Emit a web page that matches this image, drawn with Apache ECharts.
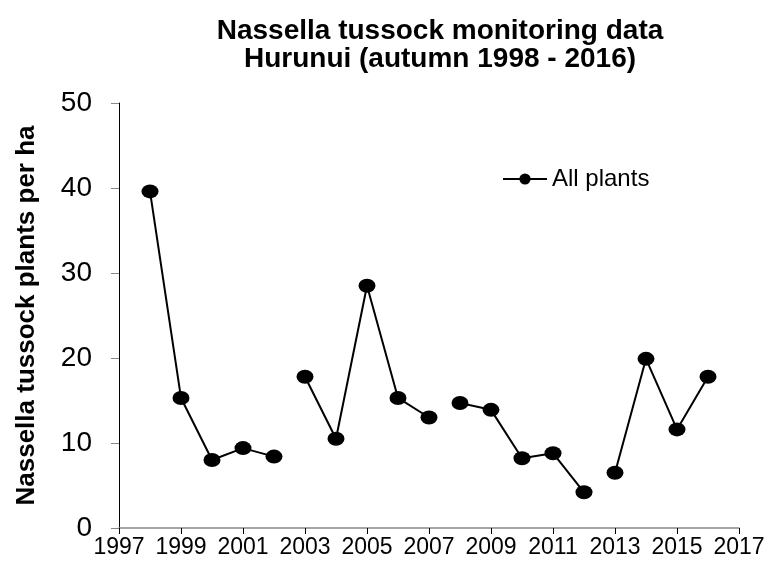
<!DOCTYPE html>
<html>
<head>
<meta charset="utf-8">
<script src="https://cdn.jsdelivr.net/npm/echarts@6/dist/echarts.min.js"></script>
<style>
  html, body { margin: 0; padding: 0; background: #fff; }
  #chart { width: 769px; height: 563px; }
</style>
</head>
<body>
<div id="chart"></div>
<script>
// survey years and plant density (plants per ha)
var years = [1998, 1999, 2000, 2001, 2002, 2003, 2004, 2005, 2006, 2007,
             2008, 2009, 2010, 2011, 2012, 2013, 2014, 2015, 2016];
var allPlants = [39.6, 15.3, 8.0, 9.4, 8.4, 17.8, 10.5, 28.5, 15.3, 13.0,
                 14.7, 13.9, 8.2, 8.8, 4.2, 6.5, 19.9, 11.6, 17.8];
// line is broken after these years
var breakAfter = [2002, 2007, 2012];

var xMin = 1997, xMax = 2017, xStep = 2;
var yMin = 0, yMax = 50, yStep = 10;

// build series data, insert empty points where the line breaks
var seriesData = [];
for (var i = 0; i < years.length; i++) {
    seriesData.push([years[i], allPlants[i]]);
    if (breakAfter.indexOf(years[i]) >= 0) {
        seriesData.push([years[i] + 0.5, null]);
    }
}

var font = '"Liberation Sans", Arial, sans-serif';
var myChart = echarts.init(document.getElementById('chart'));

var option = {
    animation: false,
    textStyle: { fontFamily: font, color: '#000' },
    title: {
        text: 'Nassella tussock monitoring data\nHurunui (autumn 1998 - 2016)',
        left: 435,
        top: 12,
        textAlign: 'center',
        textStyle: {
            fontFamily: font,
            fontSize: 28,
            fontWeight: 'bold',
            lineHeight: 28,
            color: '#000'
        }
    },
    legend: {
        left: 497,
        top: 162,
        itemWidth: 44,
        itemHeight: 14,
        itemGap: 4,
        textStyle: { fontFamily: font, fontSize: 24, color: '#000' },
        data: [{ name: 'All plants' }]
    },
    grid: {
        left: 119,
        right: 30,
        top: 103,
        bottom: 35,
        containLabel: false
    },
    xAxis: {
        type: 'value',
        min: xMin,
        max: xMax,
        interval: xStep,
        axisLine: { show: true, onZero: false, lineStyle: { color: '#888', width: 1.5 } },
        axisTick: { show: true, length: 6, lineStyle: { color: '#000' } },
        axisLabel: {
            fontFamily: font, fontSize: 23, color: '#000', margin: 8,
            formatter: function (v) { return String(v); }
        },
        splitLine: { show: false }
    },
    yAxis: {
        type: 'value',
        min: yMin,
        max: yMax,
        interval: yStep,
        name: 'Nassella tussock plants per ha',
        nameLocation: 'middle',
        nameGap: 79,
        nameTextStyle: { fontFamily: font, fontSize: 26, fontWeight: 'bold', color: '#000' },
        axisLine: { show: true, lineStyle: { color: '#000', width: 1 } },
        axisTick: { show: true, length: 8, lineStyle: { color: '#888' } },
        axisLabel: { fontFamily: font, fontSize: 28, color: '#000', margin: 27 },
        splitLine: { show: false }
    },
    series: [{
        name: 'All plants',
        type: 'line',
        data: seriesData,
        connectNulls: false,
        symbol: 'circle',
        symbolSize: [17, 14],
        showSymbol: true,
        lineStyle: { color: '#000', width: 2 },
        itemStyle: { color: '#000' }
    }]
};

myChart.setOption(option);
</script>
</body>
</html>
